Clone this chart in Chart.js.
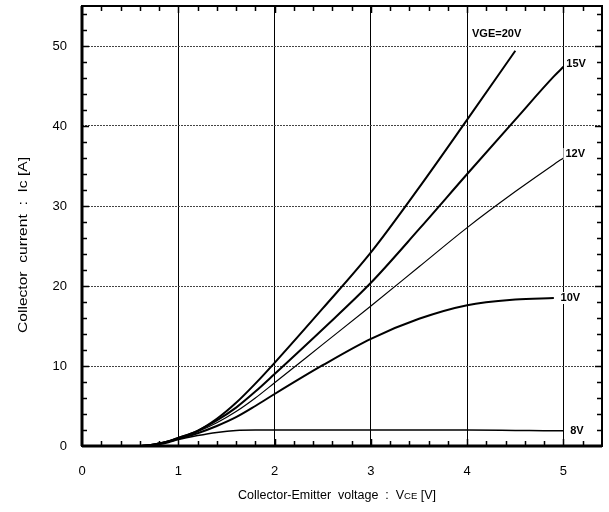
<!DOCTYPE html>
<html lang="en">
<head>
<meta charset="UTF-8">
<title>Ic - VCE characteristics</title>
<script src="https://cdn.jsdelivr.net/npm/chart.js"></script>
<style>
    html, body { margin: 0; padding: 0; background: #fff; }
    #wrap { width: 609px; height: 512px; }
</style>
</head>
<body>
<div id="wrap"><canvas id="grafico" width="609" height="512"></canvas></div>
<script>
    // Collector-emitter voltage points (V)
    const vce  = [0.6, 0.7, 0.8, 0.9, 1.0, 1.2, 1.4, 1.6, 1.8, 2.0, 2.5, 3.0, 3.5, 4.0, 4.5, 4.9, 5.0];
    // Collector current (A) for each gate voltage
    const ic20 = [0, 0.1, 0.3, 0.6, 1.0, 1.9, 3.4, 5.4, 7.8, 10.4, 17.2, 24.2, 32.3, 40.8, 49.4, null, null];
    const ic15 = [0, 0.1, 0.3, 0.6, 1.0, 1.9, 3.2, 4.8, 6.8, 9.0, 14.6, 20.4, 27.1, 34.0, 40.8, 46.2, 47.4];
    const ic12 = [0, 0.1, 0.3, 0.6, 1.0, 1.8, 2.9, 4.3, 6.0, 7.9, 12.7, 17.5, 22.4, 27.3, 31.8, 35.2, 36.0];
    const ic10 = [0, 0.1, 0.3, 0.55, 0.9, 1.6, 2.5, 3.6, 5.0, 6.5, 10.1, 13.4, 15.9, 17.6, 18.3, 18.5, null];
    const ic8  = [0, 0.1, 0.2, 0.45, 0.8, 1.3, 1.7, 1.95, 2.0, 2.0, 2.0, 2.0, 2.0, 2.0, 1.95, 1.9, 1.9];

    const xTicks = [0, 1, 2, 3, 4, 5];
    const yTicks = [0, 10, 20, 30, 40, 50];

    // curve labels and where they sit (data coords)
    const curveNames = ['VGE=20V', '15V', '12V', '10V', '8V'];
    const labelVce   = [4.05, 5.03, 5.02, 4.97, 5.07];
    const labelIc    = [51.5, 47.7, 36.5, 18.5, 1.9];

    const yTitle = 'Collector  current  :  Ic [A]';
    const xTitle = ['Collector-Emitter  voltage  :  V', 'CE', ' [V]'];

    function serie(ys, width) {
        return {
            data: vce.map((x, i) => ({ x: x, y: ys[i] })),
            borderColor: '#000',
            borderWidth: width,
            pointRadius: 0,
            fill: false,
            cubicInterpolationMode: 'monotone'
        };
    }

    // frame, inward ticks, curve labels and axis titles
    const marcoPlugin = {
        id: 'marco',
        afterDatasetsDraw(chart) {
            const ctx = chart.ctx;
            const a = chart.chartArea;
            const sx = chart.scales.x, sy = chart.scales.y;
            ctx.save();
            ctx.strokeStyle = '#000';
            ctx.lineWidth = 1.5;
            ctx.beginPath();
            for (let v = 0.2; v < 5.4; v += 0.2) {
                const px = Math.round(sx.getPixelForValue(v)) + 0.5;
                const len = Math.abs(v - Math.round(v)) < 0.01 ? 7 : 5;
                ctx.moveTo(px, a.bottom); ctx.lineTo(px, a.bottom - len);
                ctx.moveTo(px, a.top); ctx.lineTo(px, a.top + len);
            }
            for (let v = 2; v < 55; v += 2) {
                const py = Math.round(sy.getPixelForValue(v)) + 0.5;
                const len = v % 10 === 0 ? 7 : 5;
                ctx.moveTo(a.left, py); ctx.lineTo(a.left + len, py);
                ctx.moveTo(a.right, py); ctx.lineTo(a.right - len, py);
            }
            ctx.stroke();
            ctx.lineWidth = 2;
            ctx.strokeRect(a.left, a.top, a.right - a.left, a.bottom - a.top);
            ctx.lineWidth = 3;
            ctx.beginPath();
            ctx.moveTo(a.left, a.top); ctx.lineTo(a.left, a.bottom);
            ctx.moveTo(a.left, a.bottom); ctx.lineTo(a.right, a.bottom);
            ctx.stroke();

            ctx.font = 'bold 11px "Liberation Sans", Arial, sans-serif';
            ctx.textBaseline = 'middle';
            ctx.textAlign = 'left';
            curveNames.forEach((t, i) => {
                const px = sx.getPixelForValue(labelVce[i]);
                const py = sy.getPixelForValue(labelIc[i]);
                const w = ctx.measureText(t).width;
                ctx.fillStyle = '#fff';
                ctx.fillRect(px - 2, py - 6, w + 4, 12);
                ctx.fillStyle = '#000';
                ctx.fillText(t, px, py);
            });

            // y title, a bit stretched like the original
            ctx.fillStyle = '#000';
            ctx.font = '13px "Liberation Sans", Arial, sans-serif';
            ctx.textAlign = 'center';
            ctx.save();
            ctx.translate(23, (a.top + a.bottom) / 2 + 19);
            ctx.rotate(-Math.PI / 2);
            ctx.scale(1.2, 1);
            ctx.fillText(yTitle, 0, 0);
            ctx.restore();

            // x title with small CE
            const big = '12.5px "Liberation Sans", Arial, sans-serif';
            const small = '9.5px "Liberation Sans", Arial, sans-serif';
            ctx.textAlign = 'left';
            ctx.textBaseline = 'alphabetic';
            const fonts = [big, small, big];
            const widths = xTitle.map((t, i) => { ctx.font = fonts[i]; return ctx.measureText(t).width; });
            let x0 = 337 - widths.reduce((p, c) => p + c, 0) / 2;
            xTitle.forEach((t, i) => {
                ctx.font = fonts[i];
                ctx.fillText(t, x0, 499);
                x0 += widths[i];
            });
            ctx.restore();
        }
    };

    const fuente = { family: '"Liberation Sans", Arial, sans-serif', size: 13 };

    new Chart(document.getElementById('grafico').getContext('2d'), {
        type: 'line',
        data: {
            datasets: [
                serie(ic20, 2),
                serie(ic15, 2),
                serie(ic12, 1.2),
                serie(ic10, 2),
                serie(ic8, 1.5)
            ]
        },
        options: {
            responsive: false,
            animation: false,
            layout: { padding: { top: 6, right: 7, left: 0, bottom: 0 } },
            plugins: { legend: { display: false }, tooltip: { enabled: false } },
            scales: {
                x: {
                    type: 'linear',
                    min: 0, max: 5.4,
                    afterFit: s => { s.height = 66; s.paddingLeft = 0; s.paddingRight = 0; },
                    afterBuildTicks: s => { s.ticks = xTicks.map(v => ({ value: v })); },
                    ticks: { color: '#000', font: fuente, padding: 18, maxRotation: 0 },
                    grid: {
                        drawTicks: false,
                        color: c => (c.tick && c.tick.value > 0) ? '#000' : 'rgba(0,0,0,0)',
                        lineWidth: 1
                    },
                    border: { display: false }
                },
                y: {
                    type: 'linear',
                    min: 0, max: 55,
                    afterFit: s => { s.width = 82; s.paddingTop = 0; s.paddingBottom = 0; },
                    afterBuildTicks: s => { s.ticks = yTicks.map(v => ({ value: v })); },
                    ticks: { color: '#000', font: fuente, padding: 15 },
                    grid: {
                        drawTicks: false,
                        color: c => (c.tick && c.tick.value > 0) ? '#444' : 'rgba(0,0,0,0)',
                        lineWidth: 1
                    },
                    border: { display: false, dash: [2, 1] }
                }
            }
        },
        plugins: [marcoPlugin]
    });
</script>
</body>
</html>
